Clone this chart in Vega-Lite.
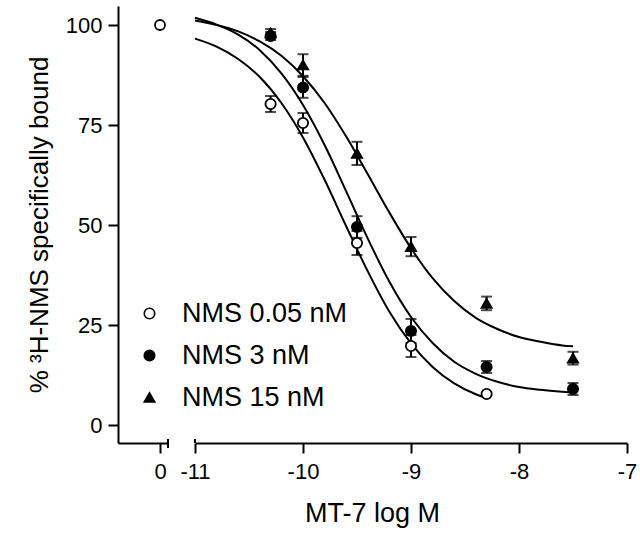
{
  "$schema": "https://vega.github.io/schema/vega-lite/v6.json",
  "background": "white",
  "padding": {"left": 26, "top": 6, "right": 5, "bottom": 5},
  "bounds": "flush",
  "spacing": 27,
  "config": {
    "font": "Liberation Sans",
    "view": {"stroke": null},
    "axis": {
      "grid": false,
      "domainColor": "black",
      "domainWidth": 2,
      "tickColor": "black",
      "tickWidth": 2,
      "tickSize": 10,
      "labelFontSize": 22,
      "labelColor": "black",
      "labelFlush": false,
      "labelPadding": 8,
      "titleFontSize": 27,
      "titleFontWeight": "normal",
      "titleColor": "black"
    },
    "legend": {
      "labelFontSize": 27,
      "labelColor": "black",
      "labelLimit": 400,
      "symbolSize": 110,
      "symbolStrokeColor": "black",
      "symbolStrokeWidth": 1.6,
      "labelOffset": 19,
      "rowPadding": 14
    }
  },
  "datasets": {
    "control": [
      {"series": "NMS 0.05 nM", "conc": 0, "pct": 100}
    ],
    "points": [
      {"series": "NMS 0.05 nM", "logM": -10.3, "pct": 80.25, "err": 2},
      {"series": "NMS 0.05 nM", "logM": -10.0, "pct": 75.5, "err": 2.5},
      {"series": "NMS 0.05 nM", "logM": -9.5, "pct": 45.5, "err": 3},
      {"series": "NMS 0.05 nM", "logM": -9.0, "pct": 19.75, "err": 2.75},
      {"series": "NMS 0.05 nM", "logM": -8.3, "pct": 7.75, "err": 0},
      {"series": "NMS 3 nM", "logM": -10.3, "pct": 97.25, "err": 1},
      {"series": "NMS 3 nM", "logM": -10.0, "pct": 84.4, "err": 2.6},
      {"series": "NMS 3 nM", "logM": -9.5, "pct": 49.5, "err": 2.7},
      {"series": "NMS 3 nM", "logM": -9.0, "pct": 23.5, "err": 3},
      {"series": "NMS 3 nM", "logM": -8.3, "pct": 14.5, "err": 1.5},
      {"series": "NMS 3 nM", "logM": -7.5, "pct": 9.0, "err": 1.5},
      {"series": "NMS 15 nM", "logM": -10.3, "pct": 98.0, "err": 1},
      {"series": "NMS 15 nM", "logM": -10.0, "pct": 90.0, "err": 2.7},
      {"series": "NMS 15 nM", "logM": -9.5, "pct": 67.9, "err": 2.9},
      {"series": "NMS 15 nM", "logM": -9.0, "pct": 44.6, "err": 2.4},
      {"series": "NMS 15 nM", "logM": -8.3, "pct": 30.4, "err": 1.7},
      {"series": "NMS 15 nM", "logM": -7.5, "pct": 16.7, "err": 1.6}
    ],
    "curves": [
      {"series": "NMS 0.05 nM", "logM": -11.0, "pct": 96.6},
      {"series": "NMS 0.05 nM", "logM": -10.8, "pct": 94.6},
      {"series": "NMS 0.05 nM", "logM": -10.6, "pct": 91.5},
      {"series": "NMS 0.05 nM", "logM": -10.4, "pct": 87.0},
      {"series": "NMS 0.05 nM", "logM": -10.2, "pct": 80.5},
      {"series": "NMS 0.05 nM", "logM": -10.0, "pct": 71.9},
      {"series": "NMS 0.05 nM", "logM": -9.8, "pct": 61.3},
      {"series": "NMS 0.05 nM", "logM": -9.6, "pct": 49.7},
      {"series": "NMS 0.05 nM", "logM": -9.4, "pct": 38.4},
      {"series": "NMS 0.05 nM", "logM": -9.2, "pct": 28.3},
      {"series": "NMS 0.05 nM", "logM": -9.0, "pct": 20.4},
      {"series": "NMS 0.05 nM", "logM": -8.8, "pct": 14.5},
      {"series": "NMS 0.05 nM", "logM": -8.6, "pct": 10.4},
      {"series": "NMS 0.05 nM", "logM": -8.4, "pct": 7.7},
      {"series": "NMS 0.05 nM", "logM": -8.33, "pct": 7.0},
      {"series": "NMS 3 nM", "logM": -11.0, "pct": 101.8},
      {"series": "NMS 3 nM", "logM": -10.8, "pct": 100.1},
      {"series": "NMS 3 nM", "logM": -10.6, "pct": 97.6},
      {"series": "NMS 3 nM", "logM": -10.4, "pct": 93.7},
      {"series": "NMS 3 nM", "logM": -10.2, "pct": 87.9},
      {"series": "NMS 3 nM", "logM": -10.0, "pct": 80.0},
      {"series": "NMS 3 nM", "logM": -9.8, "pct": 70.0},
      {"series": "NMS 3 nM", "logM": -9.6, "pct": 58.4},
      {"series": "NMS 3 nM", "logM": -9.4, "pct": 46.6},
      {"series": "NMS 3 nM", "logM": -9.2, "pct": 35.8},
      {"series": "NMS 3 nM", "logM": -9.0, "pct": 27.0},
      {"series": "NMS 3 nM", "logM": -8.8, "pct": 20.5},
      {"series": "NMS 3 nM", "logM": -8.6, "pct": 15.8},
      {"series": "NMS 3 nM", "logM": -8.4, "pct": 12.8},
      {"series": "NMS 3 nM", "logM": -8.2, "pct": 10.8},
      {"series": "NMS 3 nM", "logM": -8.0, "pct": 9.5},
      {"series": "NMS 3 nM", "logM": -7.8, "pct": 8.8},
      {"series": "NMS 3 nM", "logM": -7.6, "pct": 8.3},
      {"series": "NMS 3 nM", "logM": -7.5, "pct": 8.1},
      {"series": "NMS 15 nM", "logM": -11.0, "pct": 101.1},
      {"series": "NMS 15 nM", "logM": -10.8, "pct": 100.0},
      {"series": "NMS 15 nM", "logM": -10.6, "pct": 98.4},
      {"series": "NMS 15 nM", "logM": -10.4, "pct": 95.9},
      {"series": "NMS 15 nM", "logM": -10.2, "pct": 92.3},
      {"series": "NMS 15 nM", "logM": -10.0, "pct": 87.2},
      {"series": "NMS 15 nM", "logM": -9.8, "pct": 80.5},
      {"series": "NMS 15 nM", "logM": -9.6, "pct": 72.1},
      {"series": "NMS 15 nM", "logM": -9.4, "pct": 62.7},
      {"series": "NMS 15 nM", "logM": -9.2, "pct": 53.1},
      {"series": "NMS 15 nM", "logM": -9.0, "pct": 44.2},
      {"series": "NMS 15 nM", "logM": -8.8, "pct": 36.7},
      {"series": "NMS 15 nM", "logM": -8.6, "pct": 31.0},
      {"series": "NMS 15 nM", "logM": -8.4, "pct": 26.8},
      {"series": "NMS 15 nM", "logM": -8.2, "pct": 24.0},
      {"series": "NMS 15 nM", "logM": -8.0, "pct": 22.0},
      {"series": "NMS 15 nM", "logM": -7.8, "pct": 20.8},
      {"series": "NMS 15 nM", "logM": -7.6, "pct": 19.9},
      {"series": "NMS 15 nM", "logM": -7.5, "pct": 19.7}
    ]
  },
  "hconcat": [
    {
      "width": 50,
      "height": 437,
      "layer": [
        {
          "data": {"name": "control"},
          "mark": {"type": "point", "shape": "circle", "filled": false, "size": 100, "color": "black", "strokeWidth": 1.8, "opacity": 1},
          "encoding": {
            "x": {"field": "conc", "type": "quantitative", "scale": {"domain": [-4.2, 0.8], "nice": false, "zero": false}, "axis": {"values": [0], "title": null, "labelExpr": "'' + datum.value", "labelFontSize": 22}},
            "y": {"field": "pct", "type": "quantitative", "scale": {"domain": [-4.5, 104.75], "nice": false, "zero": false}, "axis": {"values": [0, 25, 50, 75, 100], "title": "% ³H-NMS specifically bound", "titlePadding": 13, "labelPadding": 6, "labelFontSize": 22, "titleFontSize": 26}}
          }
        },
        {
          "data": {"values": [{}]},
          "mark": {"type": "rule", "color": "black", "strokeWidth": 2},
          "encoding": {
            "x": {"datum": 0.8, "type": "quantitative"},
            "y": {"datum": -5.75, "type": "quantitative"},
            "y2": {"datum": -3.5}
          }
        }
      ]
    },
    {
      "width": 432,
      "height": 437,
      "layer": [
        {
          "data": {"name": "curves"},
          "mark": {"type": "line", "color": "black", "strokeWidth": 2, "interpolate": "monotone"},
          "encoding": {
            "x": {"field": "logM", "type": "quantitative", "scale": {"domain": [-11, -7], "nice": false, "zero": false}, "axis": {"values": [-11, -10, -9, -8, -7], "labelExpr": "'' + datum.value", "labelFontSize": 22, "title": "MT-7 log M", "titleX": 177, "titlePadding": 18}},
            "y": {"field": "pct", "type": "quantitative", "scale": {"domain": [-4.5, 104.75], "nice": false, "zero": false}, "axis": null},
            "detail": {"field": "series"}
          }
        },
        {
          "data": {"name": "points"},
          "transform": [{"filter": "datum.err > 0"}],
          "mark": {"type": "errorbar", "ticks": {"size": 11}, "color": "black", "thickness": 2},
          "encoding": {
            "x": {"field": "logM", "type": "quantitative"},
            "y": {"field": "pct", "type": "quantitative"},
            "yError": {"field": "err"}
          }
        },
        {
          "data": {"name": "points"},
          "mark": {"type": "point", "filled": true, "size": 105, "strokeWidth": 1.8, "opacity": 1},
          "encoding": {
            "x": {"field": "logM", "type": "quantitative"},
            "y": {"field": "pct", "type": "quantitative"},
            "shape": {"field": "series", "type": "nominal", "scale": {"domain": ["NMS 0.05 nM", "NMS 3 nM", "NMS 15 nM"], "range": ["circle", "circle", "triangle-up"]}, "legend": {"title": null, "orient": "none", "legendX": 18, "legendY": 294}},
            "fill": {"field": "series", "type": "nominal", "scale": {"domain": ["NMS 0.05 nM", "NMS 3 nM", "NMS 15 nM"], "range": ["white", "black", "black"]}, "legend": {"title": null, "orient": "none", "legendX": 18, "legendY": 294}},
            "stroke": {"field": "series", "type": "nominal", "scale": {"domain": ["NMS 0.05 nM", "NMS 3 nM", "NMS 15 nM"], "range": ["black", "black", "black"]}, "legend": {"title": null, "orient": "none", "legendX": 18, "legendY": 294}}
          }
        },
        {
          "data": {"values": [{}]},
          "mark": {"type": "rule", "color": "black", "strokeWidth": 2},
          "encoding": {
            "x": {"datum": -11, "type": "quantitative"},
            "y": {"datum": -4.5, "type": "quantitative"},
            "y2": {"datum": -3.5}
          }
        }
      ]
    }
  ]
}
